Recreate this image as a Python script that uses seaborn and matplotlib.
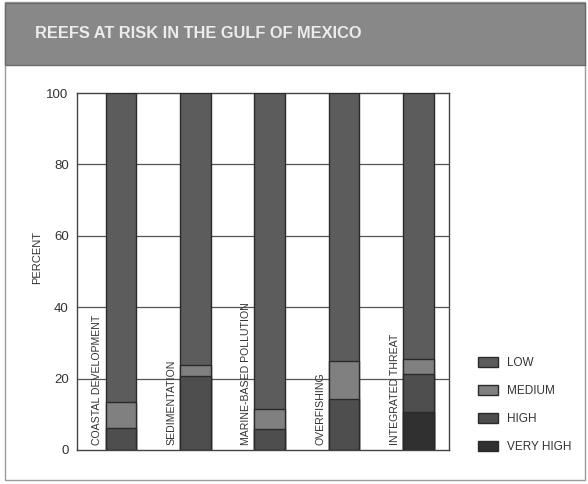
import matplotlib
matplotlib.use("Agg")
import matplotlib.pyplot as plt
from matplotlib.patches import Patch, Rectangle
import numpy as np
import pandas as pd
import seaborn as sns

categories = ["COASTAL DEVELOPMENT", "SEDIMENTATION", "MARINE-BASED POLLUTION",
              "OVERFISHING", "INTEGRATED THREAT"]
very_high = [0.0, 0.0, 0.0, 0.0, 10.7]
high = [6.2, 20.8, 5.9, 14.3, 10.6]
medium = [7.3, 3.1, 5.6, 10.7, 4.3]
low = [86.5, 76.1, 88.5, 75.0, 74.4]
levels = ["LOW", "MEDIUM", "HIGH", "VERY HIGH"]
yticks = [0, 20, 40, 60, 80, 100]

sns.set_theme(style="white")
FONT = ["Liberation Sans Narrow", "Liberation Sans", "DejaVu Sans"]
plt.rcParams["font.family"] = FONT

colors = {"LOW": "#5c5c5c", "MEDIUM": "#808080", "HIGH": "#4e4e4e", "VERY HIGH": "#303030"}
edge = "#2a2a2a"

df = pd.DataFrame({"threat": categories, "VERY HIGH": very_high, "HIGH": high,
                   "MEDIUM": medium, "LOW": low})
df["c_vh"] = df["VERY HIGH"]
df["c_h"] = df["c_vh"] + df["HIGH"]
df["c_m"] = df["c_h"] + df["MEDIUM"]
df["c_l"] = df["c_m"] + df["LOW"]

fig = plt.figure(figsize=(5.88, 4.84), dpi=100)
fig.patch.set_facecolor("white")

fig.add_artist(Rectangle((5 / 588, 1 - 480 / 484), 580 / 588, 478 / 484,
                         transform=fig.transFigure, facecolor="white",
                         edgecolor="#9a9a9a", lw=1.0, zorder=0))
fig.add_artist(Rectangle((5 / 588, 1 - 65 / 484), 580 / 588, 62 / 484,
                         transform=fig.transFigure, facecolor="#888888",
                         edgecolor="#6a6a6a", lw=1.0, zorder=1))
fig.text(35 / 588, 1 - 34 / 484, "REEFS AT RISK IN THE GULF OF MEXICO",
         color="#ececec", fontsize=11.8, fontweight="bold", va="center", ha="left",
         family=FONT, zorder=2)

ax = fig.add_axes([77 / 588, 1 - 450 / 484, 372 / 588, 357 / 484])
ax.set_facecolor("white")

for col, lvl in [("c_l", "LOW"), ("c_m", "MEDIUM"), ("c_h", "HIGH"), ("c_vh", "VERY HIGH")]:
    sns.barplot(data=df, x="threat", y=col, order=categories, color=colors[lvl],
                saturation=1, width=0.41, edgecolor=edge, linewidth=1.0, ax=ax,
                zorder=3)

ax.set_xlim(-0.59, 4.41)
ax.set_ylim(0, 100)
ax.set_yticks(yticks)
ax.set_yticklabels([str(v) for v in yticks], fontsize=9.5, color="#333333")
ax.set_xticks([])
ax.set_xlabel("")
ax.set_ylabel("PERCENT", fontsize=8, color="#333333")
ax.yaxis.set_label_coords(-0.094, 0.54)
ax.tick_params(axis="y", length=0, pad=6)
for y in yticks[1:-1]:
    ax.axhline(y, color="#555555", lw=0.9, zorder=1)
for s in ax.spines.values():
    s.set_visible(True)
    s.set_color("#444444")
    s.set_linewidth(1.0)

for i, name in enumerate(categories):
    ax.text(i - 0.32, 1.4, name, rotation=90, ha="center", va="bottom",
            fontsize=7.6, color="#333333", family=FONT, zorder=4)

handles = [Patch(facecolor=colors[l], edgecolor=edge, label=l) for l in levels]
fig.legend(handles=handles, loc="upper left", bbox_to_anchor=(478 / 588, 1 - 357 / 484),
           frameon=False, fontsize=8.5, handlelength=1.7, handleheight=0.85,
           labelspacing=1.36, handletextpad=0.75, borderpad=0, borderaxespad=0,
           labelcolor="#333333")

fig.savefig("out.png", dpi=100)
